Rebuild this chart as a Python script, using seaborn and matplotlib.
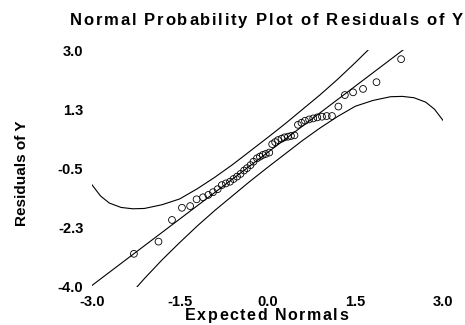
import numpy as np
import pandas as pd
import matplotlib
matplotlib.use("Agg")
import matplotlib.pyplot as plt
import seaborn as sns
from matplotlib.font_manager import FontProperties

# Expected normal scores and sorted residuals
expected = [-2.28, -1.86, -1.63, -1.46, -1.32, -1.21, -1.10, -1.01, -0.93, -0.85,
            -0.78, -0.71, -0.64, -0.58, -0.52, -0.46, -0.40, -0.35, -0.29, -0.24,
            -0.18, -0.13, -0.08, -0.03, 0.03, 0.08, 0.13, 0.18, 0.24, 0.29,
            0.35, 0.40, 0.46, 0.52, 0.58, 0.64, 0.71, 0.78, 0.85, 0.93,
            1.01, 1.10, 1.21, 1.32, 1.46, 1.63, 1.86, 2.28]
residuals = [-3.02, -2.66, -2.02, -1.66, -1.61, -1.41, -1.35, -1.28, -1.20, -1.11,
             -0.99, -0.94, -0.89, -0.81, -0.74, -0.66, -0.56, -0.49, -0.40, -0.30,
             -0.20, -0.15, -0.10, -0.07, -0.03, 0.22, 0.28, 0.34, 0.38, 0.42,
             0.44, 0.46, 0.48, 0.79, 0.85, 0.91, 0.95, 0.98, 1.01, 1.03,
             1.05, 1.05, 1.33, 1.67, 1.75, 1.85, 2.05, 2.73]

# Reference line (location + scale * normal score)
ref_intercept = -0.03
ref_slope = 1.31

# Confidence band curves
upper_x = [-3.0, -2.85, -2.7, -2.5, -2.3, -2.1, -1.8, -1.5, -1.2, -0.9,
           -0.6, -0.3, 0.0, 0.3, 0.6, 0.9, 1.2, 1.5, 1.8]
upper_y = [-0.97, -1.31, -1.52, -1.65, -1.69, -1.68, -1.57, -1.40, -1.10, -0.76,
           -0.39, 0.01, 0.41, 0.82, 1.25, 1.68, 2.14, 2.63, 3.14]
lower_x = [-2.3, -2.1, -1.8, -1.5, -1.2, -0.9, -0.6, -0.3, 0.0, 0.3,
           0.6, 0.9, 1.2, 1.5, 1.8, 2.1, 2.3, 2.5, 2.7, 2.85, 3.0]
lower_y = [-4.14, -3.75, -3.20, -2.69, -2.20, -1.74, -1.31, -0.88, -0.47, -0.07,
           0.33, 0.70, 1.04, 1.34, 1.51, 1.62, 1.63, 1.59, 1.46, 1.25, 0.91]

x_ticks = [-3.0, -1.5, 0.0, 1.5, 3.0]
x_tick_labels = ["-3.0", "-1.5", "0.0", "1.5", "3.0"]
y_ticks = [-4.0, -2.25, -0.5, 1.25, 3.0]
y_tick_labels = ["-4.0", "-2.3", "-0.5", "1.3", "3.0"]

title_text = "Normal Probability Plot of Residuals of Y"
x_label = "Expected Normals"
y_label = "Residuals of Y"

sns.set_theme(style="white")
plt.rcParams["font.family"] = ["Liberation Sans", "DejaVu Sans"]

W, H = 465, 325
fig = plt.figure(figsize=(W / 100, H / 100), dpi=100)
fig.patch.set_facecolor("white")
ax = fig.add_axes([91.7 / W, 1 - 287 / H, (443.3 - 91.7) / W, (287 - 50) / H])
ax.set_facecolor("white")

line_kw = dict(color="black", linewidth=0.8, sort=False, estimator=None, ax=ax)
fit_df = pd.DataFrame({"x": [x_ticks[0], x_ticks[-1]]})
fit_df["y"] = ref_intercept + ref_slope * fit_df["x"]
sns.lineplot(data=fit_df, x="x", y="y", **line_kw)
sns.lineplot(x=upper_x, y=upper_y, **line_kw)
sns.lineplot(x=lower_x, y=lower_y, **line_kw)

sns.scatterplot(x=expected, y=residuals, ax=ax, marker="o", s=24,
                facecolor="none", edgecolor="black", linewidth=0.6, zorder=3)

ax.set_xlim(-3.0, 3.0)
ax.set_ylim(-4.0, 3.0)
for sp in ax.spines.values():
    sp.set_visible(False)
ax.set_xticks(x_ticks)
ax.set_xticklabels(x_tick_labels, fontsize=10.5, fontweight="bold")
ax.set_yticks(y_ticks)
ax.set_yticklabels(y_tick_labels, fontsize=10.5, fontweight="bold")
ax.tick_params(axis="both", length=0, colors="black")
ax.tick_params(axis="x", pad=6)
ax.tick_params(axis="y", pad=6)
ax.set_xlabel("")
ax.set_ylabel("")
ax.grid(False)

renderer = fig.canvas.get_renderer()


def tracked_text(s, cx, baseline, fp, target_width):
    """Draw a centred string with extra letter spacing so it spans target_width px."""
    def width(t):
        return renderer.get_text_width_height_descent(t, fp, ismath=False)[0]
    natural = width(s)
    track = (target_width - natural) / (len(s) - 1)
    start = cx - target_width / 2
    for i, ch in enumerate(s):
        if ch == " ":
            continue
        left = width(s[:i + 1]) - width(ch) + i * track
        fig.text((start + left) / W, (H - baseline) / H, ch, fontproperties=fp,
                 ha="left", va="baseline", color="black")


title_fp = FontProperties(family="Liberation Sans", weight="bold", size=12)
tracked_text(title_text, 266.5, 25, title_fp, 393)

xlabel_fp = FontProperties(family="Liberation Sans", weight="bold", size=11.5)
tracked_text(x_label, 266.5, 320, xlabel_fp, 163)

fig.text(22.5 / W, 1 - 173.5 / H, y_label, rotation=90, ha="center", va="center",
         fontsize=11, fontweight="bold", color="black")

fig.savefig("out.png", dpi=100, facecolor="white")
